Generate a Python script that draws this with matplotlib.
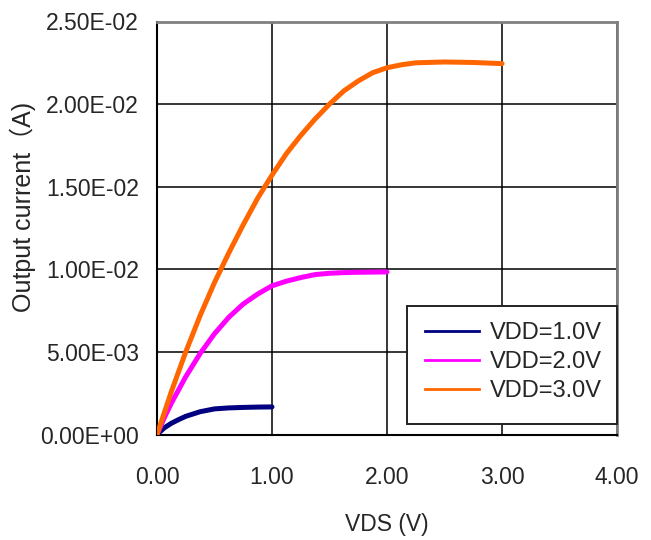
import matplotlib.pyplot as plt
from matplotlib import font_manager
from matplotlib.patches import Rectangle
from matplotlib.ticker import FixedLocator

# data
vds_1 = [0.0, 0.0625, 0.125, 0.1875, 0.25, 0.375, 0.5, 0.625, 0.75, 0.875, 1.0]
id_1 = [0.0, 0.0004, 0.00068, 0.0009, 0.0011, 0.00138, 0.00155, 0.00161, 0.00164, 0.00166, 0.00167]

vds_2 = [0.0, 0.0625, 0.125, 0.25, 0.375, 0.5, 0.625, 0.75, 0.875, 1.0, 1.125, 1.25,
         1.375, 1.5, 1.625, 1.75, 2.0]
id_2 = [0.0, 0.0010, 0.0019, 0.0035, 0.0049, 0.0061, 0.0071, 0.0079, 0.0085, 0.0090, 0.00928, 0.0095,
        0.00968, 0.00976, 0.0098, 0.00982, 0.00984]

vds_3 = [0.0, 0.125, 0.25, 0.375, 0.5, 0.625, 0.75, 0.875, 1.0, 1.125, 1.25, 1.375, 1.5,
         1.625, 1.75, 1.875, 2.0, 2.125, 2.25, 2.5, 2.75, 3.0]
id_3 = [0.0, 0.0026, 0.0050, 0.0072, 0.0092, 0.0110, 0.0127, 0.0143, 0.0157, 0.0170, 0.0181, 0.0191, 0.0200,
        0.0208, 0.0214, 0.0219, 0.0222, 0.02238, 0.0225, 0.02255, 0.02252, 0.02245]

labels = ["VDD=1.0V", "VDD=2.0V", "VDD=3.0V"]
colors = ["#000080", "#FF00FF", "#FF6600"]

x_ticks = [0, 1, 2, 3, 4]
y_ticks = [0, 0.005, 0.01, 0.015, 0.02, 0.025]

names = {f.name for f in font_manager.fontManager.ttflist}
if 'Liberation Sans Narrow' in names:
    base = 'Liberation Sans Narrow'
    fs = 19
else:
    base = 'Liberation Sans'
    fs = 16.5
plt.rcParams['font.family'] = [base, 'DejaVu Sans']
txt_color = "#262626"

fig = plt.figure(figsize=(6.51, 5.4), dpi=100)
ax = fig.add_axes([157 / 651, 105.5 / 540, 460 / 651, 413 / 540])

for xs, ys, c, lab in zip([vds_1, vds_2, vds_3], [id_1, id_2, id_3], colors, labels):
    ax.plot(xs, ys, color=c, linewidth=3.6, solid_capstyle='round',
            solid_joinstyle='round', label=lab, zorder=3)

ax.set_xlim(0, 4)
ax.set_ylim(0, 0.025)
ax.xaxis.set_major_locator(FixedLocator(x_ticks))
ax.yaxis.set_major_locator(FixedLocator(y_ticks))
ax.set_xticklabels(["%.2f" % v for v in x_ticks])
ax.set_yticklabels(["%.2E" % v for v in y_ticks])
ax.tick_params(length=0, labelsize=fs, labelcolor=txt_color)
ax.tick_params(axis='x', pad=23)
ax.tick_params(axis='y', pad=13)
ax.grid(True, color='black', linewidth=1.1)

for s in ['left', 'bottom']:
    ax.spines[s].set_color('black')
    ax.spines[s].set_linewidth(1.5)
for s in ['top', 'right']:
    ax.spines[s].set_color('#808080')
    ax.spines[s].set_linewidth(2)

ax.set_xlabel("VDS (V)", fontsize=fs, color=txt_color)
ax.xaxis.set_label_coords(0.5, -0.19)
ax.set_ylabel("Output current（A)", fontsize=fs + 1.5, color=txt_color,
              family=[base, 'Noto Sans CJK SC'])
ax.yaxis.set_label_coords(-0.262, 0.55)

# legend box drawn by hand so its padding matches the reference
ax.add_patch(Rectangle((0.543, 0.025), 0.457, 0.286, transform=ax.transAxes,
                       facecolor='white', edgecolor='#222222', linewidth=1.4,
                       zorder=4, clip_on=False))
leg_lines = [plt.Line2D([], [], color=c, linewidth=2) for c in colors]
leg = ax.legend(leg_lines, labels, loc='center', bbox_to_anchor=(0.774, 0.175),
                fontsize=fs + 0.5, frameon=False, handlelength=2.3, borderpad=0,
                labelspacing=0.3, handletextpad=0.45)
leg.set_zorder(5)
for t in leg.get_texts():
    t.set_color(txt_color)

fig.savefig("out.png", dpi=100)
